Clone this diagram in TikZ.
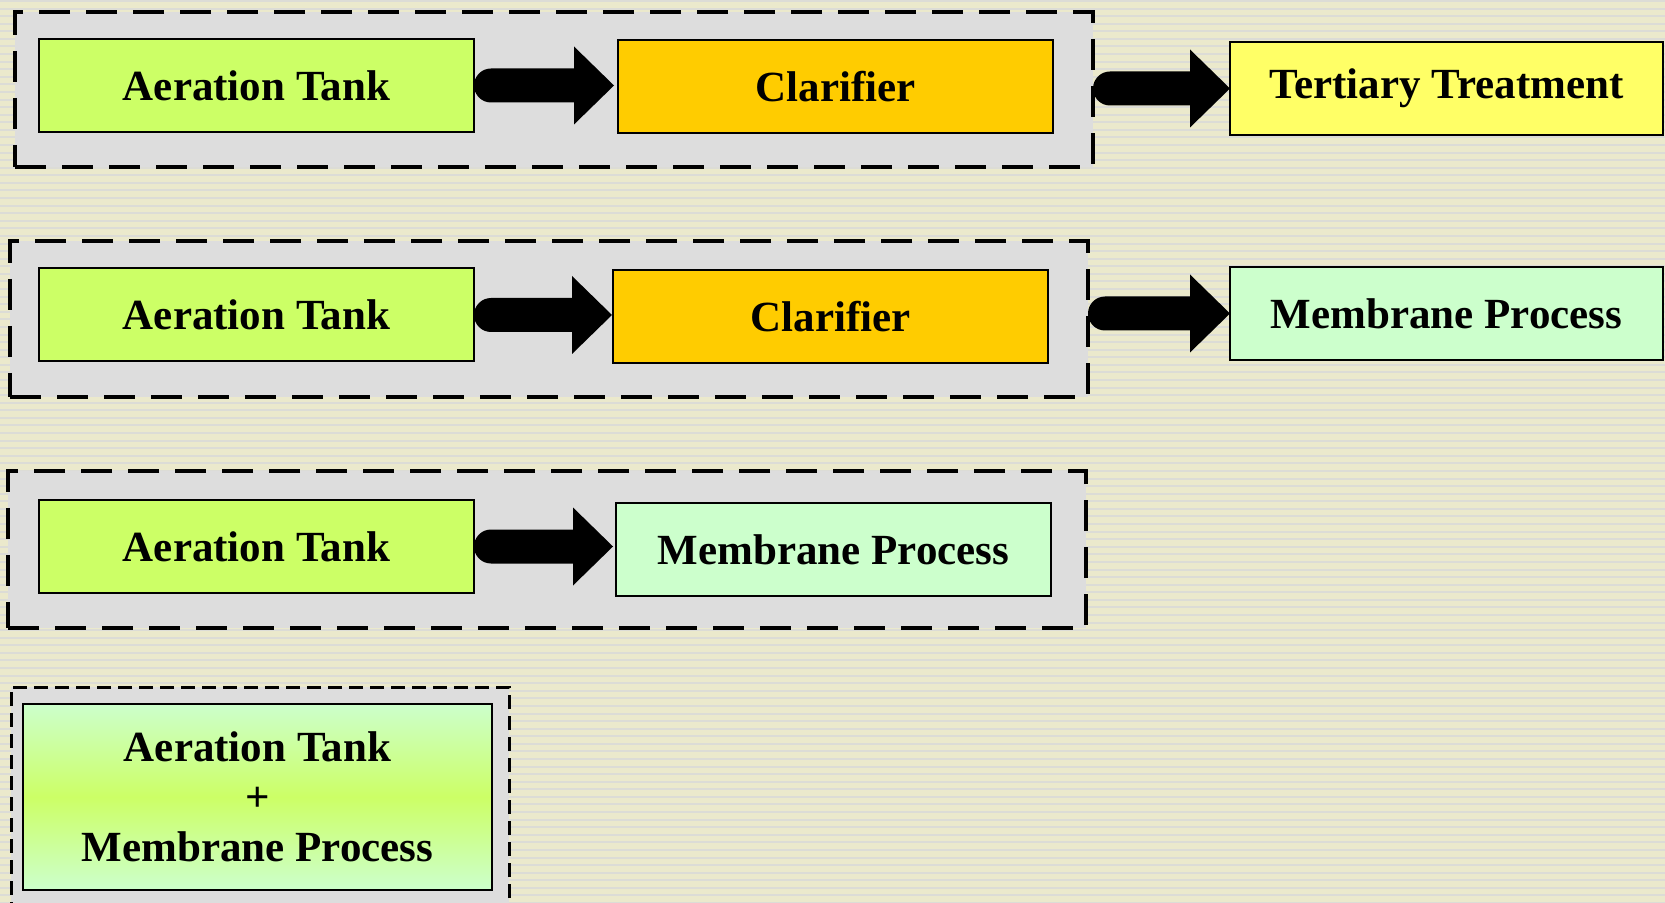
\documentclass[tikz,border=0pt]{standalone}
\usepackage{fontspec}
\setmainfont{Liberation Serif}
\usetikzlibrary{calc}
\definecolor{bgY}{HTML}{EBE9CC}
\definecolor{bgS}{HTML}{DCDCD6}
\definecolor{grp}{HTML}{DDDDDD}
\definecolor{lime}{HTML}{CCFF66}
\definecolor{gold}{HTML}{FFCC00}
\definecolor{lyel}{HTML}{FFFF66}
\definecolor{mint}{HTML}{CCFFCC}
\tikzset{
  grpbox/.style={draw=black, fill=grp, line width=2.25pt, dash pattern=on 15.5pt off 8pt, inner sep=0pt, outer sep=0pt},
  grpthin/.style={draw=black, fill=grp, line width=1.5pt, dash pattern=on 7pt off 3.5pt, inner sep=0pt, outer sep=0pt},
  procbox/.style={draw=black, line width=1pt, inner sep=0pt, outer sep=0pt,
    minimum width=217.5pt, minimum height=46.5pt,
    font=\bfseries\fontsize{21.5}{25}\selectfont, align=center},
}
\newcommand\flowarrow[2]{\fill[black] let \p1=#1, \p2=#2 in
  (\x1+8.5pt,\y1+8.5pt) -- (\x2-20pt,\y1+8.5pt) -- (\x2-20pt,\y1+19.5pt) -- (\x2,\y1)
  -- (\x2-20pt,\y1-19.5pt) -- (\x2-20pt,\y1-8.5pt) -- (\x1+8.5pt,\y1-8.5pt)
  arc[start angle=270,end angle=90,radius=8.5pt] -- cycle;}
\begin{document}
\begin{tikzpicture}[x=0.5pt,y=-0.5pt]
\useasboundingbox (0,0) rectangle (1665,903);
\fill[bgY] (0,0) rectangle (1665,903);
\foreach \k in {0,...,119} \fill[bgS] (0,{\k*7.58}) rectangle (1665,{\k*7.58+2});

% row 1
\node[grpbox, minimum width=539pt, minimum height=77.5pt] (g1) at (554,89.5) {};
\node[procbox, fill=lime] (a1) at (256.5,85.5) {Aeration Tank};
\node[procbox, fill=gold] (c1) at (835.5,86.5) {Clarifier};
\node[procbox, fill=lyel, minimum width=216.5pt] (t1) at (1446.5,88.5) {Tertiary Treatment};
\flowarrow{(a1.east)}{([xshift=-2pt]c1.west)}
\flowarrow{(g1.east |- t1.west)}{(t1.west)}

% row 2
\node[grpbox, minimum width=539pt, minimum height=78pt] (g2) at (549,319) {};
\node[procbox, fill=lime] (a2) at (256.5,315) {Aeration Tank};
\node[procbox, fill=gold] (c2) at (830.5,316.5) {Clarifier};
\node[procbox, fill=mint, minimum width=216.5pt] (m2) at (1446.5,313.5) {Membrane Process};
\flowarrow{(a2.east)}{([xshift=-0.5pt]c2.west)}
\flowarrow{(g2.east |- m2.west)}{(m2.west)}

% row 3
\node[grpbox, minimum width=539pt, minimum height=78.5pt] (g3) at (547,549.5) {};
\node[procbox, fill=lime] (a3) at (256.5,546.5) {Aeration Tank};
\node[procbox, fill=mint] (m3) at (833.5,549.5) {Membrane Process};
\flowarrow{(a3.east)}{([xshift=-1.5pt]m3.west)}

% row 4
\node[grpthin, minimum width=249pt, minimum height=119pt] (g4) at (260,806) {};
\node[procbox, minimum width=234.5pt, minimum height=93pt,
      top color=mint, bottom color=mint, middle color=lime] (m4) at (257.5,797)
      {Aeration Tank\\+\\Membrane Process};
\end{tikzpicture}
\end{document}
